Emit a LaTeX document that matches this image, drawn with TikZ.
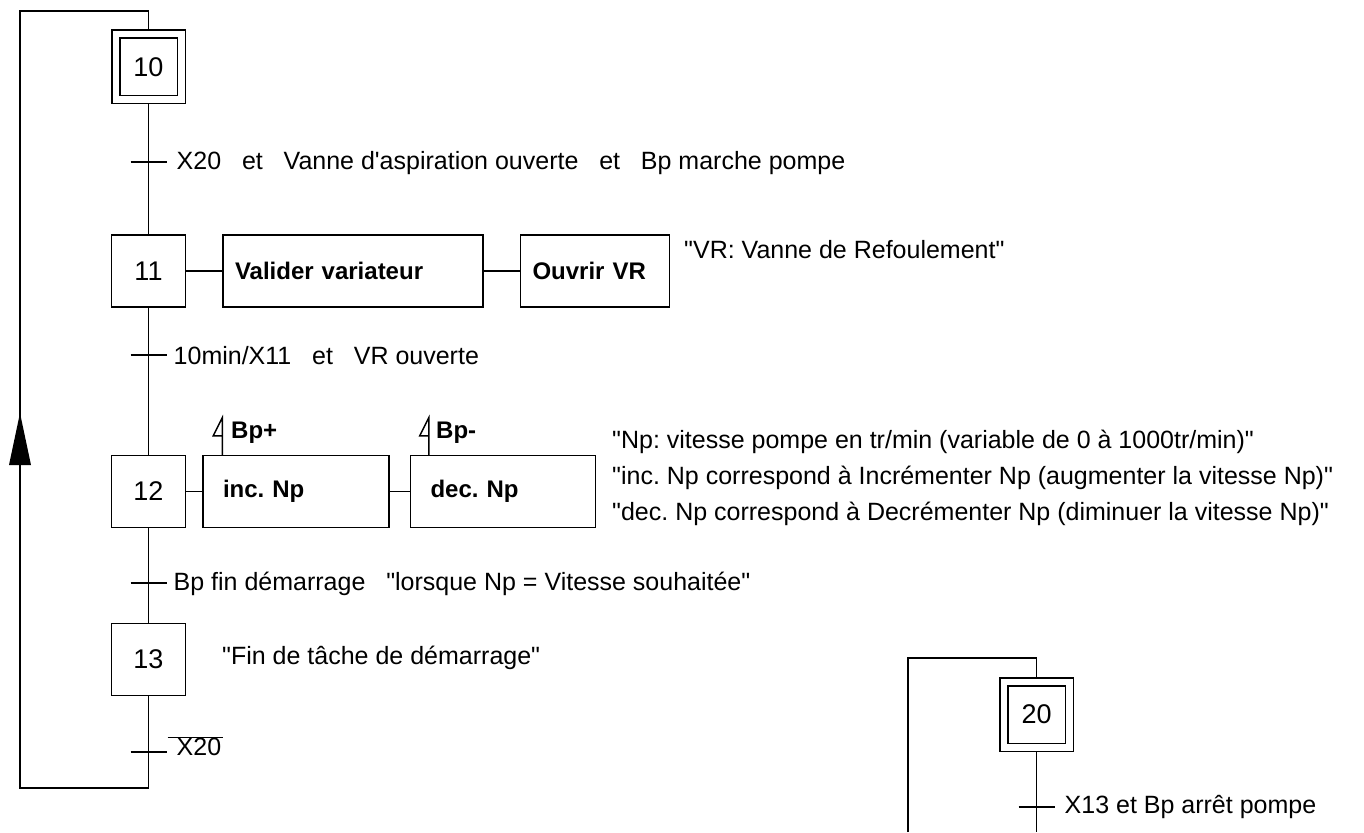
\documentclass[tikz,border=0pt]{standalone}
\usepackage{fontspec}
\setmainfont{Liberation Sans}[Ligatures=TeXOff]
\usetikzlibrary{positioning,calc}
\frenchspacing

\tikzset{
  trait/.style={line width=1.5pt},
  etape/.style={draw,trait,minimum width=74pt,minimum height=72pt,inner sep=0pt,
    font=\fontsize{27}{32}\selectfont},
  etapeinit/.style={draw,trait,double,double distance=6.5pt,minimum size=65.5pt,
    outer sep=4.75pt,inner sep=0pt,font=\fontsize{27}{32}\selectfont},
  action/.style={draw,trait,minimum height=72pt,inner ysep=0pt,align=left,
    font=\bfseries\fontsize{24}{28}\selectfont},
  recept/.style={anchor=west,inner sep=0pt,font=\fontsize{25}{30}\selectfont},
  remarque/.style={anchor=west,inner sep=0pt,font=\fontsize{25}{30}\selectfont},
  bouton/.style={anchor=west,inner sep=0pt,font=\bfseries\fontsize{24}{28}\selectfont}
}

\begin{document}
\begin{tikzpicture}[x=1pt,y=-1pt]
  \useasboundingbox (0,0) rectangle (1364,832);

  % grafcet de demarrage
  \node[etapeinit] (s10) at (148.5,67) {10};
  \node[etape] (s11) at (148.5,271) {11};
  \node[etape] (s12) at (148.5,491.5) {12};
  \node[etape] (s13) at (148.5,659.5) {13};

  \node[action,text width=236pt,inner xsep=12pt,right=36pt of s11] (valid) {Valider variateur};
  \node[action,text width=125pt,inner xsep=12pt,right=36pt of valid] (ouvr) {Ouvrir VR};
  \node[action,text width=146pt,inner xsep=20pt,right=16pt of s12] (inc) {inc. Np};
  \node[action,text width=145pt,inner xsep=20pt,right=20pt of inc] (dec) {dec. Np};

  \coordinate (t1) at (148.5,162);
  \coordinate (t2) at (148.5,355);
  \coordinate (t3) at (148.5,583);
  \coordinate (t4) at (148.5,752);
  \coordinate (b13) at (148.5,788);
  \coordinate (hg) at (20,11);
  \coordinate (fl) at (20,465);

  \draw[trait] (s10) -- (s11);
  \draw[trait] (s11) -- (s12);
  \draw[trait] (s12) -- (s13);
  \draw[trait] (s13) -- (b13) -| (hg) -| (s10);
  \draw[trait] (s11) -- (valid);
  \draw[trait] (valid) -- (ouvr);
  \draw[trait] (s12) -- (inc);
  \draw[trait] (inc) -- (dec);
  \fill ([xshift=-11pt]fl) -- ([xshift=11pt]fl) -- ([yshift=52pt]fl) -- cycle;

  \foreach \t in {t1,t2,t3,t4}
    \draw[trait] ([xshift=-18pt]\t) -- ([xshift=18pt]\t);

  \node[recept] (r1) at ([xshift=28pt,yshift=-1pt]t1) {X20\ \ \ et\ \ \ Vanne d'aspiration ouverte\ \ \ et\ \ \ Bp marche pompe};
  \node[recept] (r2) at ([xshift=25pt,yshift=-1pt]t2) {10min/X11\ \ \ et\ \ \ VR ouverte};
  \node[recept] (r3) at ([xshift=25pt,yshift=-1pt]t3) {Bp fin démarrage\ \ \ "lorsque Np = Vitesse souhaitée"};
  \node[recept] (r4) at ([xshift=19pt,yshift=6pt]t4) {$\overline{\mbox{\hspace{9pt}X20\hspace{2pt}}}$};

  % boutons
  \draw[trait] ([xshift=20pt]inc.north west) -- ++(0,-37) -- ++(-9,18) -- ++(9,0);
  \node[bouton] (bpp) at (231,433) {Bp+};
  \draw[trait] ([xshift=19pt]dec.north west) -- ++(0,-37) -- ++(-9,18) -- ++(9,0);
  \node[bouton] (bpm) at (436,433) {Bp-};

  % remarques
  \node[remarque] (vr) at (684,250) {"VR: Vanne de Refoulement"};
  \node[remarque] (np1) at (612,442) {"Np: vitesse pompe en tr/min (variable de 0 à 1000tr/min)"};
  \node[remarque] (np2) at (612,478) {"inc. Np correspond à Incrémenter Np (augmenter la vitesse Np)"};
  \node[remarque] (np3) at (612,514) {"dec. Np correspond à Decrémenter Np (diminuer la vitesse Np)"};
  \node[remarque] (fin) at (222,658) {"Fin de tâche de démarrage"};

  % grafcet d'arret
  \node[etapeinit] (s20) at (1036.5,714.5) {20};
  \coordinate (t5) at (1036.5,807);
  \coordinate (bas20) at (1036.5,832);
  \coordinate (h20) at (908,658);
  \coordinate (g20) at (908,832);
  \draw[trait] (s20) -- (bas20);
  \draw[trait] (g20) -- (h20) -| (s20);
  \draw[trait] ([xshift=-18pt]t5) -- ([xshift=18pt]t5);
  \node[recept] (r5) at ([xshift=28pt]t5) {X13 et Bp arrêt pompe};
\end{tikzpicture}
\end{document}
